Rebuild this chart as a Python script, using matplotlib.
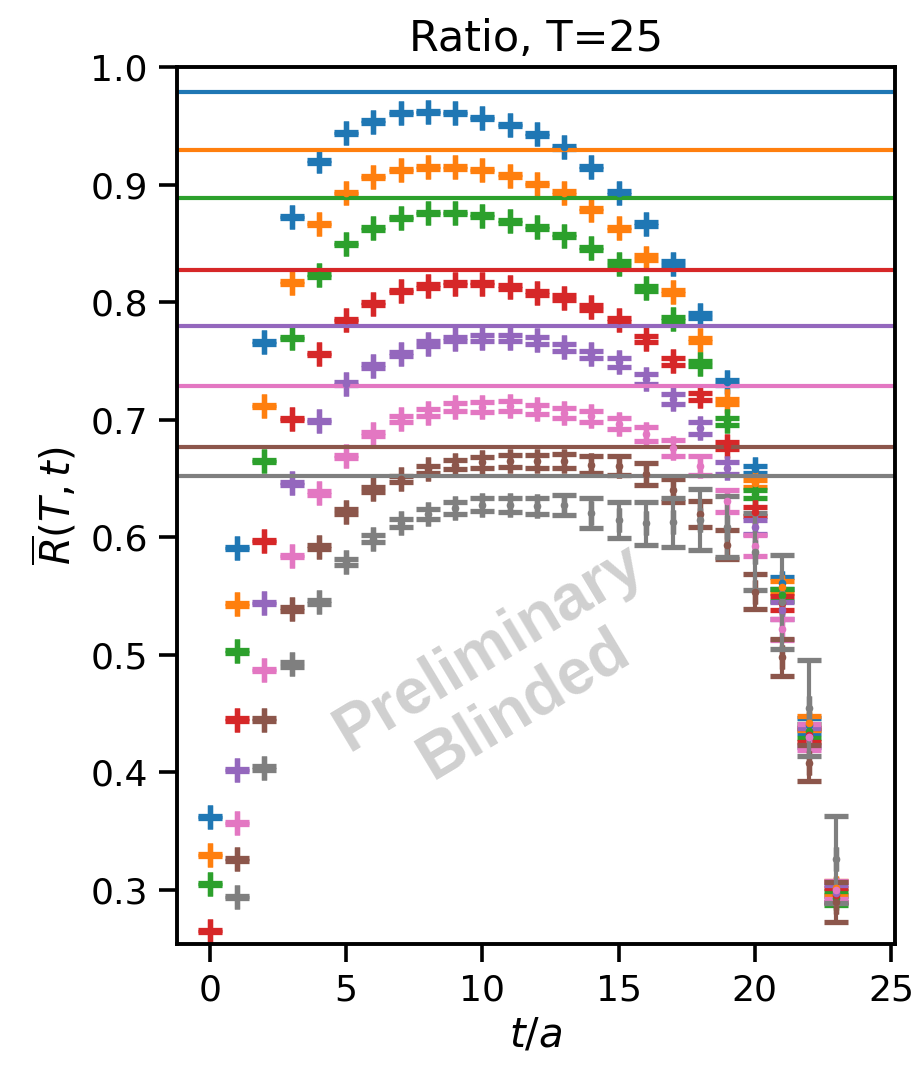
import numpy as np
import matplotlib
matplotlib.use("Agg")
import matplotlib.pyplot as plt

# ---------------- data ----------------
title = "Ratio, T=25"
xlabel = r"$t/a$"
ylabel = r"$\overline{R}(T,t)$"
xticks = [0, 5, 10, 15, 20, 25]
yticks = [0.3, 0.4, 0.5, 0.6, 0.7, 0.8, 0.9, 1.0]

colors = ["tab:blue", "tab:orange", "tab:green", "tab:red",
          "tab:purple", "tab:pink", "tab:brown", "tab:gray"]

# plateau (fit) values drawn as horizontal lines
plateaus = [0.979, 0.930, 0.889, 0.828, 0.780, 0.729, 0.677, 0.652]

t_blue = list(range(0, 24))
y_blue = [0.362, 0.591, 0.766, 0.873, 0.920, 0.944, 0.954, 0.961, 0.962, 0.961,
          0.957, 0.951, 0.943, 0.932, 0.915, 0.893, 0.867, 0.833, 0.789, 0.732,
          0.658, 0.561, 0.440, 0.301]
e_blue = [0.001, 0.001, 0.001, 0.001, 0.001, 0.001, 0.001, 0.001, 0.001, 0.001,
          0.001, 0.001, 0.001, 0.001, 0.0015, 0.0015, 0.0015, 0.002, 0.002, 0.002,
          0.003, 0.005, 0.006, 0.006]

t_orange = list(range(0, 24))
y_orange = [0.330, 0.543, 0.712, 0.817, 0.867, 0.893, 0.907, 0.913, 0.915, 0.915,
            0.913, 0.908, 0.901, 0.893, 0.879, 0.863, 0.838, 0.809, 0.768, 0.716,
            0.646, 0.558, 0.442, 0.302]
e_orange = [0.001, 0.001, 0.001, 0.001, 0.001, 0.001, 0.001, 0.001, 0.001, 0.001,
            0.001, 0.001, 0.001, 0.0015, 0.0015, 0.0015, 0.002, 0.002, 0.002, 0.002,
            0.003, 0.005, 0.006, 0.006]

t_green = list(range(0, 24))
y_green = [0.305, 0.503, 0.665, 0.770, 0.823, 0.850, 0.863, 0.872, 0.876, 0.876,
           0.874, 0.869, 0.864, 0.857, 0.846, 0.833, 0.812, 0.786, 0.748, 0.699,
           0.637, 0.551, 0.435, 0.293]
e_green = [0.001, 0.001, 0.001, 0.001, 0.001, 0.001, 0.001, 0.001, 0.001, 0.001,
           0.001, 0.001, 0.0015, 0.0015, 0.0015, 0.002, 0.002, 0.002, 0.002, 0.003,
           0.003, 0.005, 0.006, 0.006]

t_red = list(range(0, 24))
y_red = [0.265, 0.445, 0.597, 0.701, 0.756, 0.785, 0.799, 0.810, 0.814, 0.816,
         0.816, 0.813, 0.808, 0.804, 0.796, 0.785, 0.769, 0.750, 0.720, 0.678,
         0.622, 0.544, 0.432, 0.296]
e_red = [0.001, 0.001, 0.001, 0.001, 0.001, 0.001, 0.001, 0.001, 0.0015, 0.0015,
         0.0015, 0.0015, 0.002, 0.002, 0.002, 0.002, 0.0025, 0.003, 0.003, 0.003,
         0.004, 0.006, 0.006, 0.006]

t_purple = list(range(1, 24))
y_purple = [0.402, 0.544, 0.646, 0.699, 0.731, 0.746, 0.756, 0.765, 0.769, 0.770,
            0.770, 0.768, 0.762, 0.756, 0.749, 0.735, 0.718, 0.693, 0.659, 0.609,
            0.538, 0.430, 0.297]
e_purple = [0.001, 0.001, 0.001, 0.001, 0.001, 0.0015, 0.0015, 0.002, 0.002, 0.0025,
            0.0025, 0.003, 0.003, 0.003, 0.0035, 0.004, 0.004, 0.005, 0.005, 0.006,
            0.007, 0.008, 0.007]

t_pink = list(range(1, 24))
y_pink = [0.357, 0.487, 0.584, 0.638, 0.669, 0.688, 0.701, 0.706, 0.711, 0.711,
          0.712, 0.709, 0.706, 0.703, 0.697, 0.688, 0.676, 0.661, 0.631, 0.593,
          0.522, 0.430, 0.300]
e_pink = [0.001, 0.001, 0.001, 0.0015, 0.0015, 0.002, 0.0025, 0.003, 0.0035, 0.004,
          0.004, 0.004, 0.0045, 0.005, 0.005, 0.006, 0.007, 0.008, 0.009, 0.009,
          0.009, 0.011, 0.008]

t_brown = list(range(1, 24))
y_brown = [0.326, 0.445, 0.539, 0.592, 0.622, 0.641, 0.650, 0.658, 0.662, 0.664,
           0.665, 0.665, 0.665, 0.662, 0.661, 0.654, 0.640, 0.620, 0.594, 0.554,
           0.498, 0.408, 0.290]
e_brown = [0.001, 0.001, 0.0015, 0.0015, 0.002, 0.002, 0.0025, 0.003, 0.004, 0.0045,
           0.005, 0.0055, 0.006, 0.007, 0.008, 0.009, 0.010, 0.011, 0.0125, 0.015,
           0.016, 0.015, 0.017]

t_gray = list(range(1, 24))
y_gray = [0.294, 0.404, 0.492, 0.545, 0.579, 0.599, 0.612, 0.620, 0.625, 0.628,
          0.628, 0.627, 0.628, 0.621, 0.615, 0.612, 0.613, 0.615, 0.609, 0.588,
          0.545, 0.455, 0.326]
e_gray = [0.001, 0.0015, 0.002, 0.002, 0.0025, 0.003, 0.0035, 0.004, 0.005, 0.0055,
          0.006, 0.007, 0.0085, 0.013, 0.0155, 0.018, 0.021, 0.026, 0.026, 0.033,
          0.040, 0.041, 0.037]

series_t = [t_blue, t_orange, t_green, t_red, t_purple, t_pink, t_brown, t_gray]
series_y = [y_blue, y_orange, y_green, y_red, y_purple, y_pink, y_brown, y_gray]
series_e = [e_blue, e_orange, e_green, e_red, e_purple, e_pink, e_brown, e_gray]

watermark = "Preliminary\nBlinded"

# ---------------- figure ----------------
plt.rcParams["font.family"] = ["DejaVu Sans"]
plt.rcParams["mathtext.fontset"] = "dejavusans"

fig = plt.figure(figsize=(9.16, 10.68), dpi=100)
ax = fig.add_axes([0.1932, 0.1161, 0.7839, 0.8207])

for t, y, e, c, p in zip(series_t, series_y, series_e, colors, plateaus):
    ax.errorbar(t, y, yerr=e, xerr=np.zeros(len(t)), fmt=".", color=c,
                ms=9, capsize=8.5, capthick=3.8, elinewidth=3)
    ax.axhline(p, color=c, lw=3)

ax.set_xlim(-1.21, 25.15)
ax.set_ylim(0.254, 1.0)
ax.set_xticks(xticks)
ax.set_yticks(yticks)
ax.set_yticklabels([f"{v:.1f}" for v in yticks])

for s in ax.spines.values():
    s.set_linewidth(2.8)
ax.tick_params(axis="both", which="major", direction="out", length=13,
               width=2.6, pad=8, labelsize=26, color="black")

ax.set_title(title, fontsize=31, pad=12)
ax.set_xlabel(xlabel, fontsize=29, labelpad=6)
ax.set_ylabel(ylabel, fontsize=29, labelpad=8)

ax.text(10.9, 0.482, watermark, fontsize=46, fontweight="bold",
        family=["Liberation Sans", "DejaVu Sans"], color="#d0d0d0",
        rotation=31, ha="center", va="center", multialignment="center",
        rotation_mode="anchor", linespacing=1.15, zorder=10)

fig.savefig("out.png", dpi=100)
